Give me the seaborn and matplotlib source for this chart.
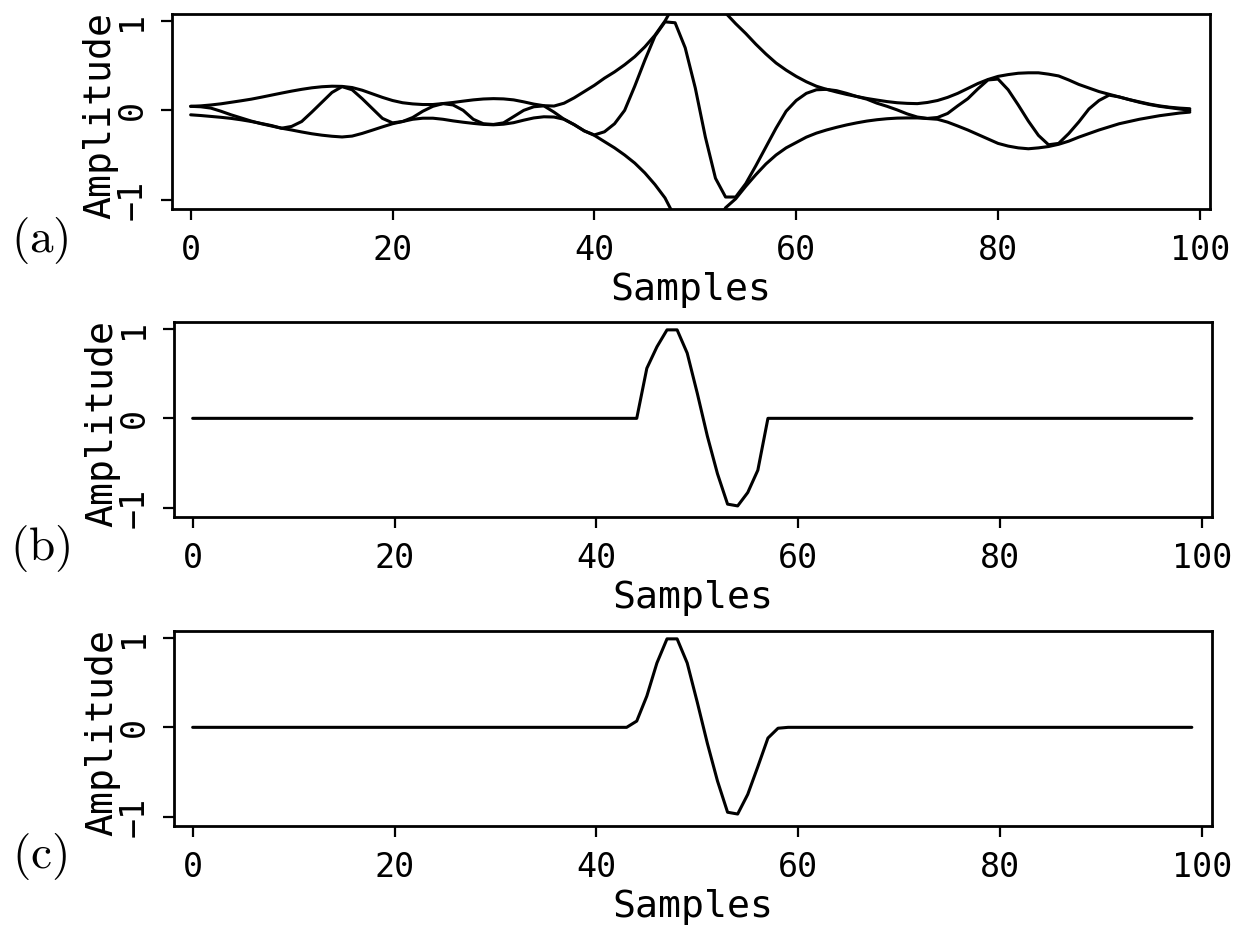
import numpy as np
import pandas as pd
import matplotlib
matplotlib.use("Agg")
import matplotlib.pyplot as plt
import seaborn as sns

# ---- data -------------------------------------------------------------
samples = list(range(100))

# (a) trace and its upper / lower envelopes, one value per sample
trace_a = [
    0.045, 0.04, 0.025, -0.01, -0.05, -0.085, -0.12, -0.15, -0.175, -0.2,
    -0.18, -0.125, -0.02, 0.09, 0.2, 0.265, 0.23, 0.13, 0.02, -0.09,
    -0.14, -0.125, -0.08, -0.01, 0.045, 0.075, 0.06, 0.0, -0.1, -0.15,
    -0.158, -0.14, -0.07, 0.0, 0.04, 0.05, -0.02, -0.1, -0.16, -0.23,
    -0.275, -0.24, -0.15, 0.0, 0.27, 0.56, 0.83, 0.99, 0.98, 0.7,
    0.25, -0.3, -0.76, -0.97, -0.97, -0.82, -0.62, -0.41, -0.2, -0.01,
    0.11, 0.19, 0.23, 0.235, 0.22, 0.19, 0.155, 0.125, 0.08, 0.045,
    0.005, -0.04, -0.075, -0.09, -0.08, -0.035, 0.05, 0.13, 0.24, 0.34,
    0.35, 0.23, 0.06, -0.12, -0.28, -0.385, -0.37, -0.26, -0.13, 0.015,
    0.11, 0.17, 0.15, 0.12, 0.09, 0.065, 0.045, 0.03, 0.015, 0.0,
]

env_upper = [
    0.045, 0.05, 0.06, 0.073, 0.09, 0.107, 0.125, 0.147, 0.17, 0.193,
    0.215, 0.235, 0.252, 0.264, 0.27, 0.268, 0.255, 0.225, 0.185, 0.145,
    0.11, 0.085, 0.072, 0.065, 0.065, 0.076, 0.088, 0.103, 0.117, 0.127,
    0.131, 0.128, 0.117, 0.095, 0.07, 0.052, 0.048, 0.08, 0.14, 0.21,
    0.28, 0.36, 0.43, 0.51, 0.6, 0.71, 0.84, 1.0, 1.2, 1.4,
    1.5, 1.45, 1.3, 1.09, 0.97, 0.86, 0.74, 0.63, 0.53, 0.45,
    0.38, 0.32, 0.27, 0.235, 0.205, 0.178, 0.155, 0.133, 0.115, 0.098,
    0.085, 0.078, 0.075, 0.088, 0.11, 0.145, 0.19, 0.245, 0.3, 0.345,
    0.38, 0.4, 0.415, 0.42, 0.42, 0.405, 0.385, 0.34, 0.29, 0.25,
    0.21, 0.18, 0.15, 0.12, 0.095, 0.07, 0.05, 0.035, 0.025, 0.018,
]

env_lower = [
    -0.05, -0.058, -0.068, -0.078, -0.09, -0.106, -0.125, -0.147, -0.17, -0.2,
    -0.22, -0.242, -0.262, -0.278, -0.29, -0.298, -0.288, -0.258, -0.222, -0.185,
    -0.15, -0.125, -0.1, -0.088, -0.088, -0.1, -0.118, -0.133, -0.146, -0.157,
    -0.162, -0.155, -0.138, -0.11, -0.085, -0.072, -0.075, -0.1, -0.16, -0.23,
    -0.28, -0.35, -0.42, -0.5, -0.59, -0.7, -0.83, -0.98, -1.2, -1.4,
    -1.5, -1.45, -1.3, -1.09, -0.99, -0.85, -0.72, -0.6, -0.5, -0.42,
    -0.36, -0.3, -0.255, -0.22, -0.19, -0.163, -0.14, -0.12, -0.105, -0.094,
    -0.087, -0.085, -0.085, -0.092, -0.1, -0.132, -0.175, -0.22, -0.27, -0.32,
    -0.37, -0.4, -0.42, -0.43, -0.42, -0.405, -0.38, -0.345, -0.3, -0.26,
    -0.22, -0.185, -0.15, -0.125, -0.1, -0.08, -0.06, -0.045, -0.03, -0.02,
]

# (b) truncated wavelet
wav_b_x = [0, 44, 45, 46, 47, 48, 49, 50, 51, 52, 53, 54, 55, 56, 57, 99]
wav_b_y = [0.0, 0.0, 0.56, 0.8, 0.99, 0.99, 0.73, 0.28, -0.2, -0.62, -0.96,
           -0.98, -0.83, -0.58, 0.0, 0.0]

# (c) tapered wavelet
wav_c_x = [0, 43, 44, 45, 46, 47, 48, 49, 50, 51, 52, 53, 54, 55, 56, 57, 58,
           59, 99]
wav_c_y = [0.0, 0.0, 0.07, 0.35, 0.72, 0.99, 0.99, 0.72, 0.28, -0.18, -0.6,
           -0.95, -0.97, -0.75, -0.44, -0.12, -0.01, 0.0, 0.0]

x_ticks = [0, 20, 40, 60, 80, 100]
y_ticks = [-1, 0, 1]
y_tick_labels = ["\u22121", "0", "1"]
panel_tags = ["(a)", "(b)", "(c)"]

# ---- style ------------------------------------------------------------
sns.set_theme(style="ticks")
plt.rcParams["font.family"] = ["DejaVu Sans Mono", "DejaVu Sans"]
plt.rcParams["mathtext.fontset"] = "cm"
plt.rcParams["text.color"] = "black"
plt.rcParams["axes.labelcolor"] = "black"

W, H = 1245, 931
fig = plt.figure(figsize=(W / 100, H / 100), dpi=100)

# axes boxes in pixel coordinates: left, top, right, bottom
boxes = [(172, 14, 1210, 209), (174, 322, 1212, 517), (174, 631, 1212, 826)]
axes = [fig.add_axes([l / W, 1 - b / H, (r - l) / W, (b - t) / H])
        for (l, t, r, b) in boxes]

line_kw = dict(color="black", linewidth=2.2, estimator=None, sort=False,
               legend=False)

ax = axes[0]
df_a = pd.DataFrame({"Samples": samples, "trace": trace_a,
                     "upper": env_upper, "lower": env_lower})
sns.lineplot(data=df_a, x="Samples", y="upper", ax=ax, **line_kw)
sns.lineplot(data=df_a, x="Samples", y="lower", ax=ax, **line_kw)
sns.lineplot(data=df_a, x="Samples", y="trace", ax=ax, **line_kw)

df_b = pd.DataFrame({"Samples": wav_b_x, "Amplitude": wav_b_y})
sns.lineplot(data=df_b, x="Samples", y="Amplitude", ax=axes[1], **line_kw)

df_c = pd.DataFrame({"Samples": wav_c_x, "Amplitude": wav_c_y})
sns.lineplot(data=df_c, x="Samples", y="Amplitude", ax=axes[2], **line_kw)

for ax, (l, t, r, b), tag in zip(axes, boxes, panel_tags):
    ax.set_xlim(-1.85, 101.0)
    ax.set_ylim(-1.104, 1.078)
    ax.set_xticks(x_ticks)
    ax.set_yticks(y_ticks)
    ax.set_yticklabels(y_tick_labels)
    for s in ax.spines.values():
        s.set_linewidth(2.0)
        s.set_color("black")
    ax.tick_params(axis="both", direction="out", length=8, width=1.6,
                   colors="black", labelsize=24)
    ax.tick_params(axis="x", pad=10)
    ax.tick_params(axis="y", pad=9, labelrotation=90)
    for lab in ax.get_yticklabels():
        lab.set_verticalalignment("center")
    ax.set_xlabel("Samples", fontsize=27.5, color="black")
    ax.set_ylabel("Amplitude", fontsize=27.5, color="black")
    ax.xaxis.set_label_coords(0.5, -0.415)
    ax.xaxis.label.set_verticalalignment("center")
    ax.yaxis.set_label_coords(-0.069, 0.48)
    ax.yaxis.label.set_verticalalignment("center")
    ax.set_facecolor("white")
    fig.text(40 / W, 1 - (b + 31) / H, r"$\mathrm{" + tag + "}$",
             fontsize=34, ha="center", va="center", color="black")

fig.savefig("out.png", dpi=100, facecolor="white")
